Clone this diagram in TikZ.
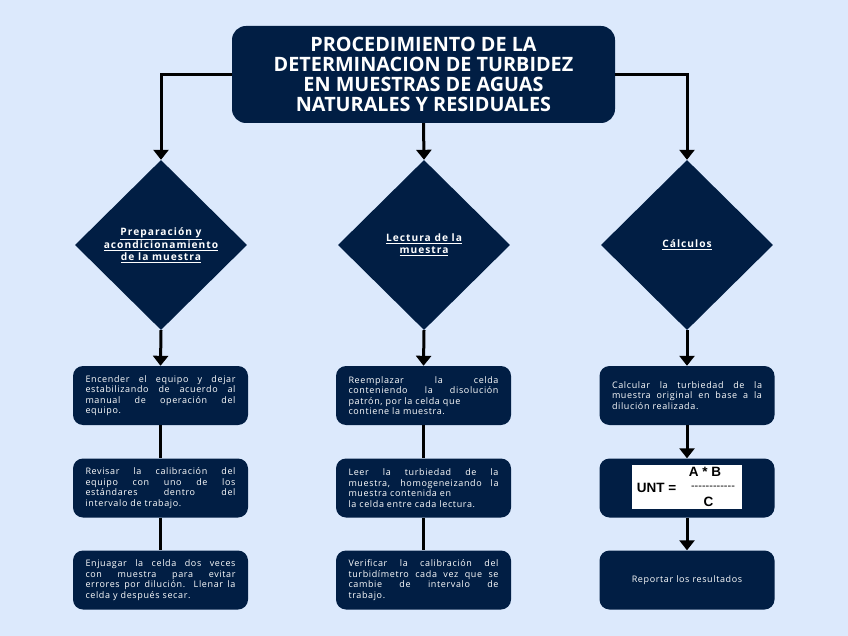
\documentclass[tikz,border=0pt]{standalone}
\usepackage{fontspec}
\setmainfont{Open Sans}
\newfontfamily\cardfont[LetterSpace=7]{Open Sans}
\newfontfamily\diafont[LetterSpace=10]{Open Sans}
\newfontfamily\arialfont{Liberation Sans}
\usetikzlibrary{shapes.geometric,arrows.meta}
\definecolor{bg}{RGB}{220,233,252}
\definecolor{navy}{RGB}{1,30,68}
\tikzset{
 titlebox/.style={fill=navy, rounded corners=14pt, minimum width=383pt, minimum height=97pt, text=white, align=center, font=\bfseries\fontsize{19.8}{20}\selectfont, inner sep=0pt},
 dia/.style={diamond, fill=navy, minimum width=172pt, minimum height=170pt, inner sep=0pt, text=white, align=center, font=\diafont\bfseries\fontsize{10.2}{12}\selectfont},
 card/.style={fill=navy, rounded corners=10pt, minimum width=175pt, minimum height=59pt, text width=150pt, inner sep=0pt, text=white, align=justify, font=\cardfont\fontsize{9}{10.5}\selectfont},
 ccard/.style={card, align=center},
 conn/.style={line width=3pt, black},
 arr/.style={conn, -{Triangle[width=15pt,length=10pt]}},
 formula/.style={font=\arialfont\bfseries\fontsize{13.5}{14}\selectfont, inner sep=0pt, text=black},
}
\begin{document}
\begin{tikzpicture}[x=1pt,y=-1pt]
\path[use as bounding box, fill=bg] (0,0) rectangle (848,636);

\node[titlebox] (title) at (423.5,74.5) {PROCEDIMIENTO DE LA\\DETERMINACION DE TURBIDEZ\\EN MUESTRAS DE AGUAS\\NATURALES Y RESIDUALES};

\node[dia] (d1) at (161,245) {\underline{Preparación y}\\\underline{acondicionamiento}\\\underline{de la muestra}};
\node[dia] (d2) at (424,245) {\underline{Lectura de la}\\\underline{muestra}};
\node[dia] (d3) at (687,245) {\underline{Cálculos}};

\node[card] (a1) at (160.5,395.5) {Encender el equipo y dejar\linebreak estabilizando de acuerdo al\linebreak manual de operación del\linebreak equipo.};
\node[card] (a2) at (160.5,488) {Revisar la calibración del\linebreak equipo con uno de los\linebreak estándares dentro del\linebreak intervalo de trabajo.};
\node[card] (a3) at (160.5,580) {Enjuagar la celda dos veces\linebreak con muestra para evitar\linebreak errores por dilución. Llenar la\linebreak celda y después secar.};

\node[card] (b1) at (423.5,395.5) {Reemplazar la celda\linebreak conteniendo la disolución\linebreak patrón, por la celda que\newline contiene la muestra.};
\node[card] (b2) at (423.5,488) {Leer la turbiedad de la\linebreak muestra, homogeneizando la\linebreak muestra contenida en\newline la celda entre cada lectura.};
\node[card] (b3) at (423.5,580) {Verificar la calibración del\linebreak turbidímetro cada vez que se\linebreak cambie de intervalo de\linebreak trabajo.};

\node[card] (c1) at (687,395.5) {Calcular la turbiedad de la\linebreak muestra original en base a la\linebreak dilución realizada.};
\node[card] (c2) at (687,488) {};
\node[ccard] (c3) at (687,580) {Reportar los resultados};

\node[fill=white, minimum width=110pt, minimum height=44pt, inner sep=0pt] (fbox) at (687,487) {};
\node[formula] (unt) at (656.5,487.5) {UNT =};
\node[formula] (num) at (705,472) {A * B};
\node[formula, font=\arialfont\fontsize{11}{11}\selectfont] (bar) at (713,488) {------------};
\node[formula] (den) at (708.5,501.5) {C};

\draw[arr] (title.west) -| (d1.north);
\draw[arr] (title.south) -- (d2.north);
\draw[arr] (title.east) -| (d3.north);

\draw[arr] (d1.south) -- (a1.north);
\draw[arr] (d2.south) -- (b1.north);
\draw[arr] (d3.south) -- (c1.north);

\draw[conn] (a1.south) -- (a2.north);
\draw[conn] (a2.south) -- (a3.north);
\draw[conn] (b1.south) -- (b2.north);
\draw[conn] (b2.south) -- (b3.north);
\draw[arr] (c1.south) -- (c2.north);
\draw[arr] (c2.south) -- (c3.north);
\end{tikzpicture}
\end{document}
